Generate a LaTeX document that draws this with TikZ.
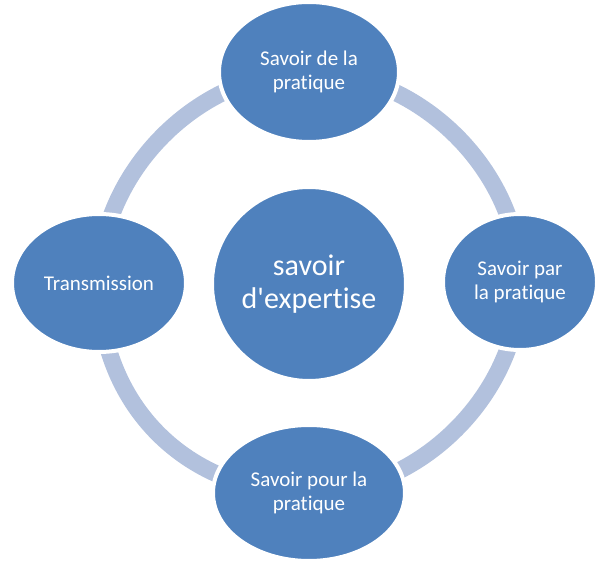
\documentclass[tikz,border=0pt]{standalone}
\usepackage{fontspec}
\newfontfamily\carl{Carlito}[Ligatures=NoCommon]
\usetikzlibrary{shapes.geometric,backgrounds}
\definecolor{nodeblue}{HTML}{4F81BD}
\definecolor{ringblue}{HTML}{B2C1DD}
\begin{document}
\begin{tikzpicture}[x=1pt,y=1pt,
  bub/.style={ellipse, fill=nodeblue, draw=white, line width=4pt, inner sep=0pt,
    text=white, align=center, font=\carl\fontsize{21}{24.5}\selectfont},
  ringseg/.style={draw=ringblue, line width=17pt}]
\useasboundingbox (0,0) rectangle (602,563);
\node[bub, minimum width=180, minimum height=140] (top) at (309,491) {Savoir de la\\pratique};
\node[bub, minimum width=154, minimum height=136] (right) at (520,281) {Savoir par\\la pratique};
\node[bub, minimum width=192, minimum height=136] (bottom) at (309,70) {Savoir pour la\\pratique};
\node[bub, minimum width=174, minimum height=138] (left) at (99,280) {Transmission};
\node[bub, minimum width=194, minimum height=194, font=\carl\fontsize{30}{33}\selectfont] (center) at (309,279) {savoir\\d'expertise};
\begin{scope}[on background layer]
\draw[ringseg] (top.center) to[out=180,in=90,looseness=0.95] (left.center);
\draw[ringseg] (left.center) to[out=270,in=180,looseness=1.05] (bottom.center);
\draw[ringseg] (bottom.center) to[out=0,in=270,looseness=0.95] (right.center);
\draw[ringseg] (right.center) to[out=90,in=0,looseness=0.95] (top.center);
\end{scope}
\end{tikzpicture}
\end{document}
